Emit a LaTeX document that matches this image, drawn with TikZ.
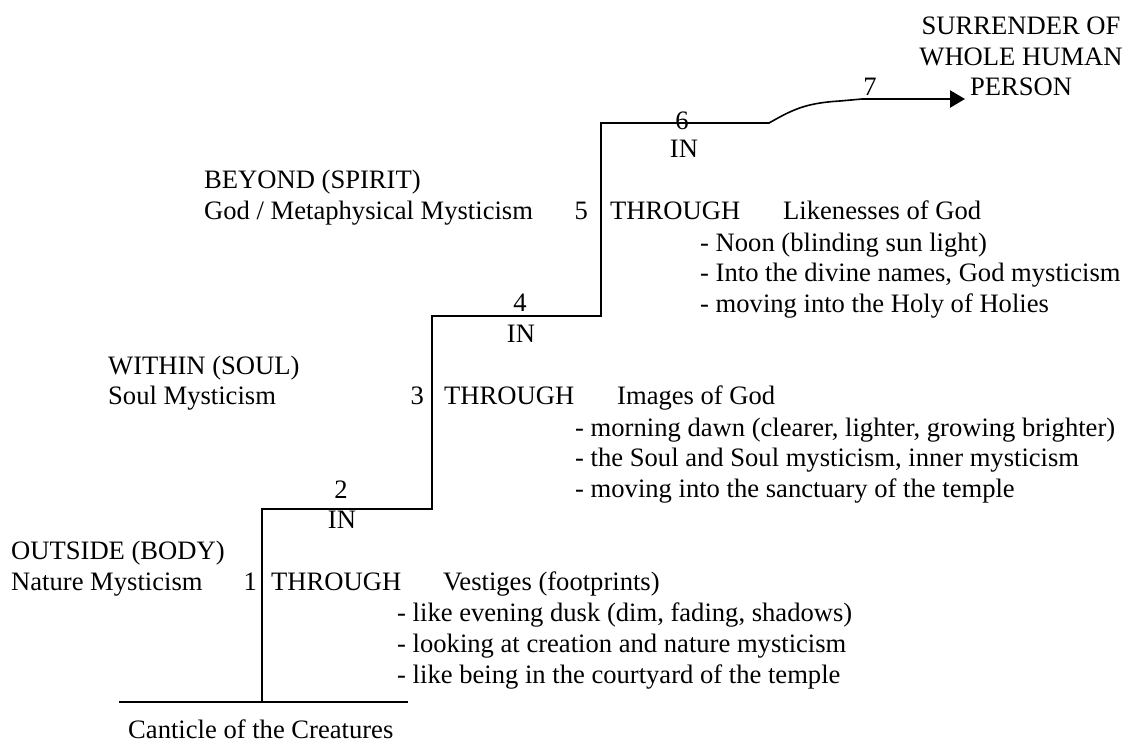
\documentclass[tikz,border=0pt]{standalone}
\usepackage{fontspec}
\setmainfont{Liberation Serif}
\usetikzlibrary{arrows.meta}

\begin{document}
\begin{tikzpicture}[x=1pt,y=-1pt,
    every node/.style={font=\fontsize{26.6}{30.5}\selectfont},
    txt/.style={inner sep=0pt,anchor=base west},
    num/.style={inner sep=0pt,anchor=base},
    rnum/.style={inner sep=0pt,anchor=base east},
    stair/.style={line width=1.6pt}]
            \useasboundingbox (0,0) rectangle (1126,742);
            % corners of the stair
            \coordinate (g0) at (119,702);
            \coordinate (g1) at (408,702);
            \coordinate (s0) at (262,702);
            \coordinate (s1) at (262,509);
            \coordinate (s2) at (432,509);
            \coordinate (s3) at (432,316);
            \coordinate (s4) at (601,316);
            \coordinate (s5) at (601,123);
            \coordinate (s6) at (769,123);
            \coordinate (s7) at (885,99);
            \coordinate (tip) at (965,99);
            \draw[stair] (g0) -- (g1);
            \draw[stair] (s0) -- (s1) -- (s2) -- (s3) -- (s4) -- (s5) -- (s6) .. controls (792,110) and (805,103) .. (840,101) -- (862,99) -- (s7);
            \draw[stair,line width=2.4pt,-{Triangle[length=15pt,width=17pt]}] (s7) -- (tip);
            % step numbers
            \node[rnum] (n1) at (257,590) {1};
            \node[num] (n2) at (341,498) {2};
            \node[num] (in2) at (342,528) {IN};
            \node[rnum] (n3) at (424,404) {3};
            \node[num] (n4) at (520,311) {4};
            \node[num] (in4) at (521,342) {IN};
            \node[rnum] (n5) at (588,219) {5};
            \node[num] (n6) at (682,129) {6};
            \node[num] (in6) at (684,157) {IN};
            \node[num] (n7) at (870,95) {7};
            % goal
            \node[num] (goal1) at (1021,34) {SURRENDER OF};
            \node[num] (goal2) at (1021,65) {WHOLE HUMAN};
            \node[num] (goal3) at (1021,95) {PERSON};
            % outside
            \node[txt] (body) at (11,559) {OUTSIDE (BODY)};
            \node[txt] (nature) at (11,590) {Nature Mysticism};
            \node[txt] (thr1) at (271,590) {THROUGH};
            \node[txt] (vest) at (443,590) {Vestiges (footprints)};
            \node[txt] (vest1) at (397,621) {- like evening dusk (dim, fading, shadows)};
            \node[txt] (vest2) at (397,652) {- looking at creation and nature mysticism};
            \node[txt] (vest3) at (397,683) {- like being in the courtyard of the temple};
            % within
            \node[txt] (soul) at (108,374) {WITHIN (SOUL)};
            \node[txt] (soulm) at (108,404) {Soul Mysticism};
            \node[txt] (thr3) at (444,404) {THROUGH};
            \node[txt] (img) at (617,404) {Images of God};
            \node[txt] (img1) at (575,436) {- morning dawn (clearer, lighter, growing brighter)};
            \node[txt] (img2) at (575,466) {- the Soul and Soul mysticism, inner mysticism};
            \node[txt] (img3) at (575,497) {- moving into the sanctuary of the temple};
            % beyond
            \node[txt] (spirit) at (204,188) {BEYOND (SPIRIT)};
            \node[txt] (godm) at (204,219) {God / Metaphysical Mysticism};
            \node[txt] (thr5) at (610,219) {THROUGH};
            \node[txt] (like) at (783,219) {Likenesses of God};
            \node[txt] (like1) at (700,251) {- Noon (blinding sun light)};
            \node[txt] (like2) at (700,281) {- Into the divine names, God mysticism};
            \node[txt] (like3) at (700,312) {- moving into the Holy of Holies};
            % ground
            \node[txt] (cant) at (128,738) {Canticle of the Creatures};
        \end{tikzpicture}
\end{document}
